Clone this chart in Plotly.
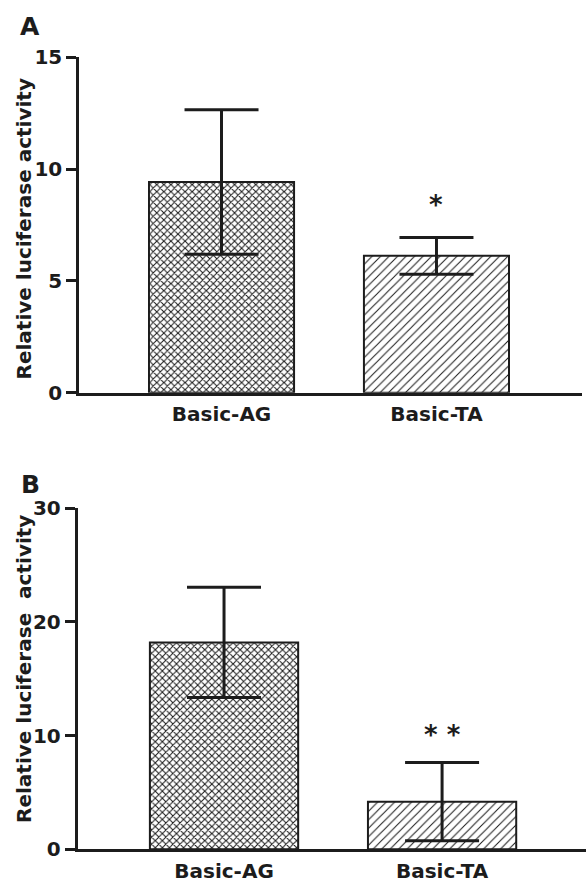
import plotly.graph_objects as go

# ---- data ----
categories = ["Basic-AG", "Basic-TA"]
a_values = [9.42, 6.12]
a_errors = [3.23, 0.82]
b_values = [18.2, 4.19]
b_errors = [4.85, 3.44]
a_ticks = [0, 5, 10, 15]
b_ticks = [0, 10, 20, 30]
a_sig = ["", "*"]
a_sig_y = [None, 8.4]
b_sig = ["", "* *"]
b_sig_y = [None, 10.1]
ytitle_a = "Relative luciferase activity"
ytitle_b = "Relative luciferase \u00a0activity"

W, H = 586, 884
INK = "#1c1c1c"
FAM = "DejaVu Sans, Liberation Sans, Arial, sans-serif"

def px_x(p):
    return p / W

def px_y(p):
    return 1 - p / H

patterns = [
    dict(shape="x", size=5, solidity=0.38, fgcolor=INK, bgcolor="white", fillmode="replace"),
    dict(shape="/", size=6, solidity=0.17, fgcolor=INK, bgcolor="white", fillmode="replace"),
]

fig = go.Figure()

for i, c in enumerate(categories):
    fig.add_trace(go.Bar(
        x=[c], y=[a_values[i]], width=0.675,
        marker=dict(color="white", line=dict(color=INK, width=2), pattern=patterns[i]),
        error_y=dict(type="data", array=[a_errors[i]], color=INK, thickness=3, width=37),
        xaxis="x", yaxis="y", showlegend=False,
    ))
    fig.add_trace(go.Bar(
        x=[c], y=[b_values[i]], width=0.68,
        marker=dict(color="white", line=dict(color=INK, width=2), pattern=patterns[i]),
        error_y=dict(type="data", array=[b_errors[i]], color=INK, thickness=3, width=37),
        xaxis="x2", yaxis="y2", showlegend=False,
    ))

tickfont = dict(family=FAM, size=20, color=INK, weight="bold")

common_x = dict(type="category", categoryorder="array", categoryarray=categories,
                showline=True, linecolor=INK, linewidth=2.5, ticks="outside", ticklen=2,
                tickcolor="rgba(0,0,0,0)", tickfont=tickfont, showgrid=False, zeroline=False,
                fixedrange=True, automargin=False)
common_y = dict(showline=True, linecolor=INK, linewidth=2.5, ticks="outside", ticklen=10,
                tickwidth=2.5, tickcolor=INK, tickfont=tickfont, showgrid=False,
                zeroline=False, fixedrange=True, automargin=False)

fig.update_layout(
    width=W, height=H, margin=dict(l=0, r=0, t=0, b=0, autoexpand=False),
    paper_bgcolor="white", plot_bgcolor="white",
    barmode="overlay",
    xaxis=dict(common_x, domain=[px_x(79), px_x(582)], range=[-0.663, 1.677], anchor="y"),
    yaxis=dict(common_y, domain=[px_y(392.7), px_y(57.3)], range=[0, 15],
               tickvals=a_ticks, anchor="x"),
    xaxis2=dict(common_x, domain=[px_x(77.5), 1.0], range=[-0.672, 1.66], anchor="y2"),
    yaxis2=dict(common_y, domain=[px_y(849.3), px_y(508.3)], range=[0, 30],
                tickvals=b_ticks, anchor="x2"),
)

title_font = dict(family=FAM, size=20, color=INK, weight="bold")
letter_font = dict(family=FAM, size=25, color=INK, weight="bold")
base = dict(xref="paper", yref="paper", showarrow=False, xanchor="center", yanchor="middle")
annotations = [
    dict(base, text="A", x=px_x(30), y=px_y(26), font=letter_font),
    dict(base, text="B", x=px_x(30), y=px_y(484), font=letter_font),
    dict(base, text=ytitle_a, x=px_x(23.5), y=px_y(229), textangle=-90, font=title_font),
    dict(base, text=ytitle_b, x=px_x(23.5), y=px_y(669.5), textangle=-90, font=title_font),
]
star_font = dict(family=FAM, size=26, color=INK, weight="bold")
for i, c in enumerate(categories):
    if a_sig[i]:
        annotations.append(dict(text=a_sig[i], x=c, y=a_sig_y[i], xref="x", yref="y",
                                showarrow=False, font=star_font, xanchor="center", yanchor="middle"))
    if b_sig[i]:
        annotations.append(dict(text=b_sig[i], x=c, y=b_sig_y[i], xref="x2", yref="y2",
                                showarrow=False, font=star_font, xanchor="center", yanchor="middle"))
fig.update_layout(annotations=annotations)

fig.write_html("out.html", config={"displayModeBar": False},
               post_script="document.body.style.margin='0';document.body.style.overflow='hidden';")
